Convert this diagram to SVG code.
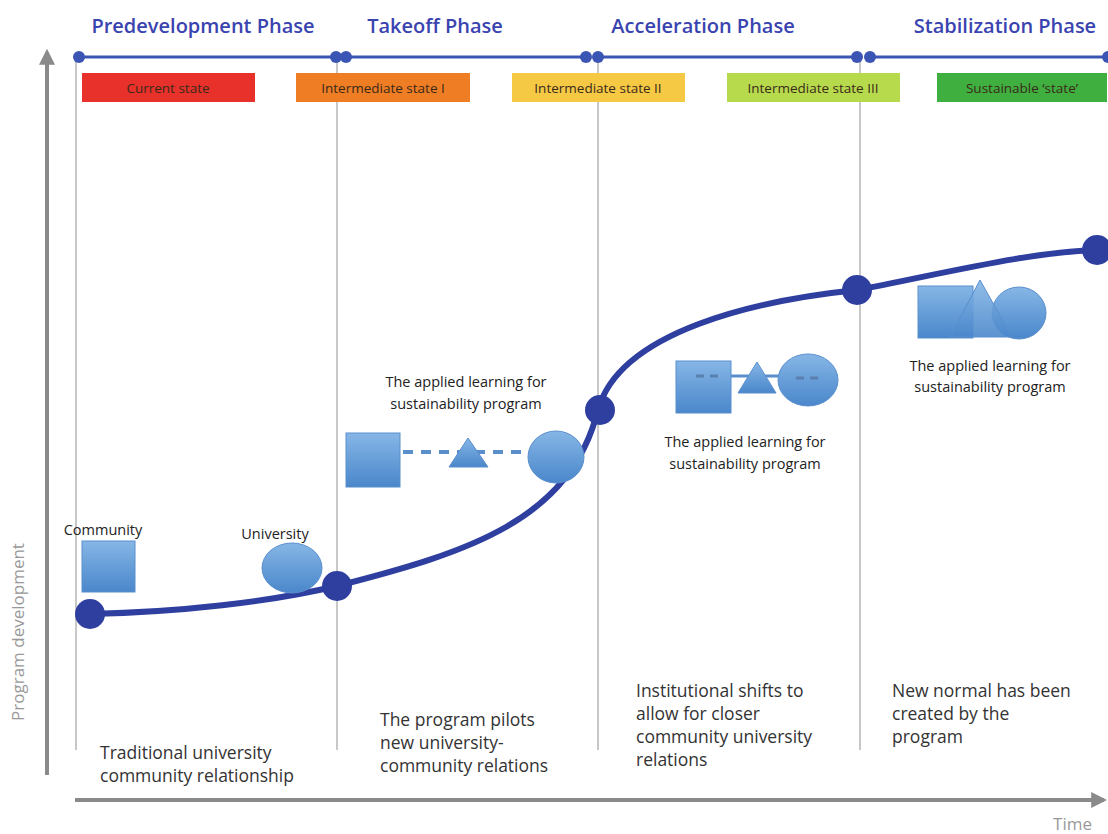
<svg xmlns="http://www.w3.org/2000/svg" width="1108" height="834" viewBox="0 0 1108 834">
<defs>
<linearGradient id="g" x1="0" y1="0" x2="0" y2="1">
<stop offset="0" stop-color="#86b6e6"/>
<stop offset="1" stop-color="#4a87cb"/>
</linearGradient>
<marker id="ah" viewBox="0 0 10 10" refX="8" refY="5" markerWidth="4" markerHeight="4" orient="auto">
<path d="M0,0 L10,5 L0,10 z" fill="#8a8a8a"/>
</marker>
<marker id="pd" viewBox="0 0 10 10" refX="5" refY="5" markerWidth="4" markerHeight="4">
<circle cx="5" cy="5" r="5" fill="#3b55b5"/>
</marker>
</defs>
<style>
.title{font-family:"Open Sans","Liberation Sans",sans-serif;font-size:20px;font-weight:600;fill:#3a44b0;text-anchor:middle}
.state{font-family:"Open Sans","Liberation Sans",sans-serif;font-size:13.5px;fill:#3a2a1a;text-anchor:middle}
.lbl{font-family:"Open Sans","Liberation Sans",sans-serif;font-size:14.5px;fill:#222;text-anchor:middle}
.desc{font-family:"Open Sans","Liberation Sans",sans-serif;font-size:17.5px;fill:#333}
.axis{font-family:"Open Sans","Liberation Sans",sans-serif;font-size:17px;fill:#999}
.shape{fill:url(#g);stroke:#5a8fcc;stroke-width:1}
.vline{stroke:#c8c8c8;stroke-width:2}
.phase{stroke:#3b55b5;stroke-width:3;marker-start:url(#pd);marker-end:url(#pd)}
.dot{fill:#2e3fa0}
</style>
<rect width="1108" height="834" fill="#ffffff"/>

<g id="axes">
<line x1="47" y1="775" x2="47" y2="52" stroke="#8a8a8a" stroke-width="4" marker-end="url(#ah)"/>
<line x1="75" y1="800" x2="1104" y2="800" stroke="#8a8a8a" stroke-width="4" marker-end="url(#ah)"/>
<text class="axis" transform="translate(24,632) rotate(-90)" text-anchor="middle">Program development</text>
<text class="axis" x="1092" y="830" text-anchor="end">Time</text>
</g>

<g id="dividers">
<line class="vline" x1="76" y1="57" x2="76" y2="750"/>
<line class="vline" x1="337" y1="57" x2="337" y2="750"/>
<line class="vline" x1="598" y1="57" x2="598" y2="750"/>
<line class="vline" x1="860" y1="57" x2="860" y2="750"/>
</g>

<g id="phase-predevelopment">
<text class="title" x="203" y="33">Predevelopment Phase</text>
<line class="phase" x1="79" y1="57" x2="336" y2="57"/>
</g>
<g id="phase-takeoff">
<text class="title" x="435" y="33">Takeoff Phase</text>
<line class="phase" x1="346" y1="57" x2="586" y2="57"/>
</g>
<g id="phase-acceleration">
<text class="title" x="703" y="33">Acceleration Phase</text>
<line class="phase" x1="598" y1="57" x2="857" y2="57"/>
</g>
<g id="phase-stabilization">
<text class="title" x="1005" y="33">Stabilization Phase</text>
<line class="phase" x1="870" y1="57" x2="1108" y2="57"/>
</g>

<g id="state-current">
<rect x="82" y="73" width="173" height="29" fill="#e8312a"/>
<text class="state" x="168" y="92.5">Current state</text>
</g>
<g id="state-1">
<rect x="296" y="73" width="174" height="29" fill="#ef7d23"/>
<text class="state" x="383" y="92.5">Intermediate state I</text>
</g>
<g id="state-2">
<rect x="512" y="73" width="173" height="29" fill="#f6c945"/>
<text class="state" x="598" y="92.5">Intermediate state II</text>
</g>
<g id="state-3">
<rect x="727" y="73" width="173" height="29" fill="#b7da4d"/>
<text class="state" x="813" y="92.5">Intermediate state III</text>
</g>
<g id="state-sustainable">
<rect x="937" y="73" width="170" height="29" fill="#3faf3f"/>
<text class="state" x="1022" y="92.5">Sustainable ‘state’</text>
</g>

<g id="connectors">
<path d="M90,614 C180,612 270,602 337,586 C470,552 570,520 598,410 C620,330 760,300 857,290 C950,272 1030,252 1097,250" fill="none" stroke="#2e3fa0" stroke-width="6"/>
</g>

<g id="predevelopment-shapes">
<text class="lbl" x="103" y="535" font-size="16">Community</text>
<rect class="shape" x="82" y="541" width="53" height="51"/>
<text class="lbl" x="275" y="539" font-size="16">University</text>
<ellipse class="shape" cx="292" cy="568" rx="30" ry="25"/>
</g>

<g id="takeoff-shapes">
<text class="lbl" x="466" y="387">The applied learning for</text>
<text class="lbl" x="466" y="409">sustainability program</text>
<line x1="403" y1="452" x2="535" y2="452" stroke="#5a8fcc" stroke-width="4" stroke-dasharray="10,8"/>
<rect class="shape" x="346" y="433" width="54" height="54"/>
<polygon class="shape" points="468,438 488,467 449,467"/>
<ellipse class="shape" cx="556" cy="457" rx="28" ry="26"/>
</g>

<g id="acceleration-shapes">
<line x1="730" y1="376" x2="782" y2="376" stroke="#5a8fcc" stroke-width="3"/>
<rect class="shape" x="676" y="361" width="55" height="52"/>
<polygon class="shape" points="757,362 776,393 738,393"/>
<ellipse class="shape" cx="808" cy="380" rx="30" ry="26"/>
<line x1="696" y1="376" x2="720" y2="376" stroke="#5a80b0" stroke-width="3" stroke-dasharray="8,6"/>
<line x1="796" y1="378" x2="824" y2="378" stroke="#5a80b0" stroke-width="3" stroke-dasharray="8,6"/>
<text class="lbl" x="745" y="447">The applied learning for</text>
<text class="lbl" x="745" y="469">sustainability program</text>
</g>

<g id="stabilization-shapes">
<rect class="shape" x="918" y="286" width="55" height="52"/>
<ellipse class="shape" cx="1019" cy="313" rx="27" ry="26"/>
<polygon class="shape" points="980,280 1012,337 950,337" fill-opacity="0.9"/>
<text class="lbl" x="990" y="371">The applied learning for</text>
<text class="lbl" x="990" y="392">sustainability program</text>
</g>

<g id="curve-dots">
<circle class="dot" cx="90" cy="614" r="15"/>
<circle class="dot" cx="337" cy="586" r="15"/>
<circle class="dot" cx="600" cy="410" r="15"/>
<circle class="dot" cx="857" cy="290" r="15"/>
<circle class="dot" cx="1097" cy="250" r="15"/>
</g>

<g id="desc-predevelopment">
<text class="desc" x="100" y="759">Traditional university</text>
<text class="desc" x="100" y="782">community relationship</text>
</g>
<g id="desc-takeoff">
<text class="desc" x="380" y="726">The program pilots</text>
<text class="desc" x="380" y="749">new university-</text>
<text class="desc" x="380" y="772">community relations</text>
</g>
<g id="desc-acceleration">
<text class="desc" x="636" y="697">Institutional shifts to</text>
<text class="desc" x="636" y="720">allow for closer</text>
<text class="desc" x="636" y="743">community university</text>
<text class="desc" x="636" y="766">relations</text>
</g>
<g id="desc-stabilization">
<text class="desc" x="892" y="697">New normal has been</text>
<text class="desc" x="892" y="720">created by the</text>
<text class="desc" x="892" y="743">program</text>
</g>
</svg>
